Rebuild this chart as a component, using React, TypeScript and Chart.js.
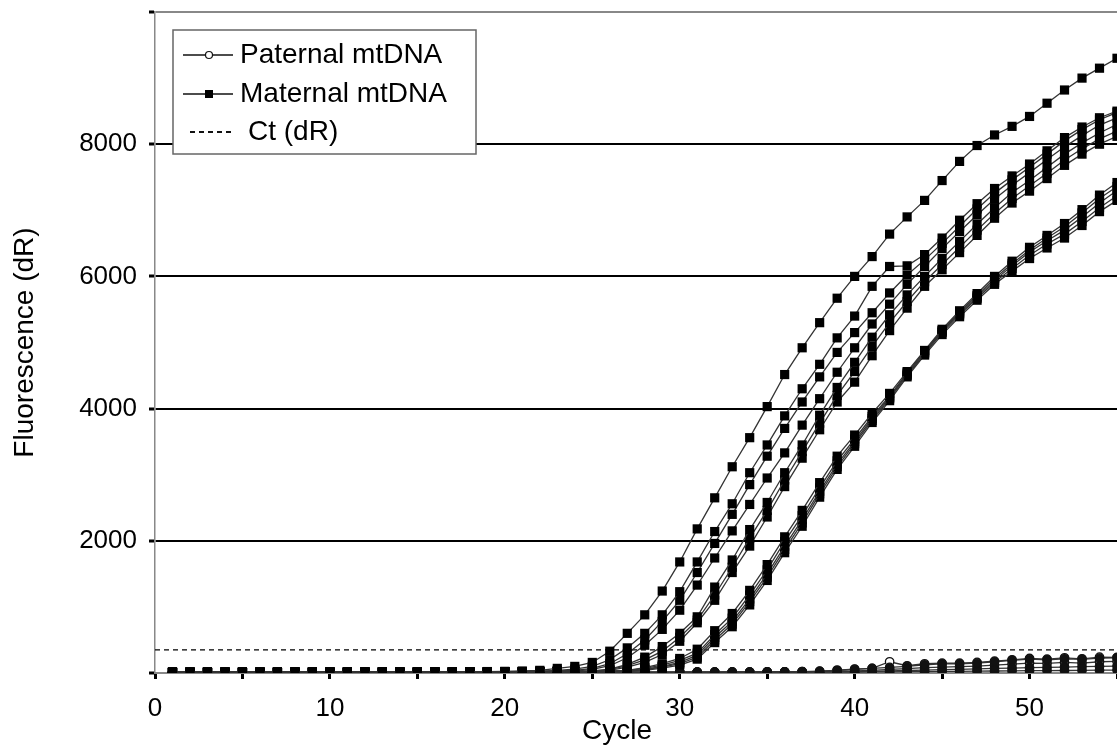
import React, { useEffect, useRef } from 'react';
import { Chart, registerables } from 'chart.js';

Chart.register(...registerables);

const CYCLES = [1, 2, 3, 4, 5, 6, 7, 8, 9, 10, 11, 12, 13, 14, 15, 16, 17, 18, 19, 20, 21, 22, 23, 24, 25, 26, 27, 28, 29, 30, 31, 32, 33, 34, 35, 36, 37, 38, 39, 40, 41, 42, 43, 44, 45, 46, 47, 48, 49, 50, 51, 52, 53, 54, 55];

// Maternal mtDNA curves
const MAT_A = [15, 12, 10, 14, 12, 10, 13, 15, 12, 14, 16, 13, 15, 17, 14, 16, 18, 20, 22, 25, 30, 40, 70, 100, 160, 330, 600, 880, 1240, 1680, 2180, 2650, 3120, 3560, 4030, 4515, 4920, 5300, 5670, 6000, 6300, 6640, 6900, 7150, 7450, 7740, 7980, 8140, 8270, 8420, 8620, 8820, 9000, 9150, 9300];
const MAT_B1 = [12, 10, 14, 11, 9, 12, 14, 10, 13, 15, 12, 14, 16, 12, 15, 17, 14, 18, 16, 20, 22, 28, 40, 60, 100, 200, 380, 600, 880, 1230, 1680, 2140, 2560, 3030, 3450, 3890, 4300, 4670, 5070, 5400, 5850, 6150, 6160, 6330, 6580, 6850, 7100, 7330, 7520, 7700, 7900, 8100, 8260, 8400, 8500];
const MAT_B2 = [10, 13, 11, 9, 12, 10, 11, 13, 12, 10, 14, 12, 13, 11, 15, 13, 16, 14, 17, 18, 20, 25, 30, 40, 70, 140, 290, 500, 780, 1100, 1520, 1960, 2400, 2850, 3280, 3700, 4100, 4480, 4850, 5150, 5450, 5750, 6020, 6250, 6500, 6760, 7020, 7260, 7460, 7650, 7850, 8050, 8220, 8370, 8480];
const MAT_B3 = [8, 11, 9, 12, 10, 8, 11, 9, 12, 10, 11, 13, 10, 12, 14, 11, 13, 15, 14, 16, 18, 22, 26, 30, 55, 110, 230, 420, 660, 950, 1330, 1740, 2150, 2550, 2950, 3330, 3750, 4150, 4550, 4920, 5280, 5580, 5880, 6150, 6420, 6680, 6930, 7170, 7380, 7570, 7770, 7960, 8130, 8290, 8400];
const MAT_B4 = [9, 12, 10, 8, 11, 13, 10, 12, 9, 11, 13, 10, 12, 14, 11, 13, 12, 15, 14, 16, 17, 19, 22, 26, 30, 60, 130, 240, 400, 600, 850, 1300, 1710, 2170, 2580, 3030, 3450, 3900, 4320, 4700, 5080, 5420, 5720, 6000, 6270, 6530, 6790, 7040, 7270, 7450, 7650, 7850, 8020, 8170, 8300];
const MAT_B5 = [11, 9, 12, 10, 13, 11, 9, 12, 10, 13, 11, 12, 14, 10, 13, 12, 15, 13, 16, 15, 18, 20, 21, 23, 25, 50, 110, 200, 330, 540, 800, 1180, 1600, 2040, 2460, 2920, 3350, 3780, 4200, 4560, 4940, 5300, 5620, 5920, 6180, 6440, 6700, 6950, 7180, 7370, 7560, 7760, 7930, 8080, 8200];
const MAT_B6 = [10, 8, 11, 13, 9, 12, 10, 11, 13, 9, 12, 14, 11, 13, 10, 14, 12, 16, 14, 15, 16, 18, 19, 20, 20, 40, 90, 160, 280, 480, 760, 1100, 1520, 1920, 2360, 2820, 3250, 3680, 4100, 4400, 4800, 5180, 5520, 5850, 6100, 6360, 6620, 6880, 7110, 7290, 7480, 7680, 7850, 8000, 8120];
const MAT_C1 = [10, 12, 9, 11, 13, 10, 12, 11, 9, 13, 12, 10, 14, 11, 12, 13, 11, 14, 12, 15, 13, 16, 15, 18, 22, 30, 40, 80, 140, 220, 360, 640, 900, 1250, 1640, 2060, 2460, 2880, 3280, 3600, 3930, 4230, 4560, 4880, 5200, 5480, 5740, 6000, 6230, 6440, 6620, 6800, 7010, 7230, 7420];
const MAT_C2 = [12, 10, 11, 9, 12, 14, 10, 12, 13, 11, 10, 12, 13, 12, 14, 11, 13, 12, 14, 13, 15, 14, 16, 17, 20, 26, 35, 70, 120, 190, 300, 580, 830, 1180, 1560, 1990, 2380, 2800, 3210, 3540, 3880, 4190, 4540, 4870, 5180, 5460, 5710, 5970, 6190, 6400, 6580, 6750, 6960, 7180, 7360];
const MAT_C3 = [9, 11, 12, 10, 9, 11, 13, 10, 11, 12, 9, 13, 11, 12, 10, 13, 12, 11, 13, 14, 12, 15, 14, 16, 18, 24, 30, 55, 100, 160, 270, 540, 780, 1120, 1500, 1920, 2320, 2750, 3160, 3500, 3850, 4170, 4520, 4850, 5170, 5440, 5690, 5940, 6160, 6370, 6540, 6700, 6900, 7110, 7300];
const MAT_C4 = [11, 10, 12, 11, 10, 12, 9, 13, 10, 11, 12, 11, 10, 13, 11, 12, 14, 12, 13, 12, 14, 13, 15, 15, 17, 21, 25, 50, 90, 140, 240, 500, 740, 1080, 1450, 1870, 2270, 2710, 3120, 3470, 3820, 4150, 4500, 4830, 5150, 5420, 5670, 5910, 6120, 6320, 6490, 6640, 6830, 7040, 7220];
const MAT_C5 = [10, 9, 11, 12, 10, 9, 12, 11, 10, 12, 11, 9, 12, 10, 13, 11, 12, 13, 11, 13, 12, 14, 13, 14, 16, 18, 20, 40, 75, 120, 210, 460, 700, 1030, 1400, 1820, 2220, 2660, 3080, 3430, 3790, 4120, 4480, 4810, 5120, 5390, 5640, 5880, 6080, 6270, 6430, 6580, 6770, 6980, 7150];

// Paternal mtDNA curves
const PAT_1 = [5, 8, 6, 4, 7, 9, 6, 5, 8, 7, 6, 9, 7, 5, 8, 6, 7, 9, 8, 6, 7, 8, 10, 9, 8, 10, 12, 11, 9, 12, 14, 12, 15, 13, 16, 18, 20, 25, 45, 60, 70, 170, 110, 140, 150, 150, 160, 180, 200, 220, 210, 230, 215, 240, 235];
const PAT_2 = [6, 4, 7, 5, 8, 6, 4, 7, 5, 8, 6, 7, 5, 8, 6, 9, 7, 8, 6, 9, 8, 7, 9, 10, 8, 11, 10, 12, 11, 13, 12, 14, 13, 15, 17, 19, 22, 28, 38, 55, 70, 85, 100, 125, 140, 140, 150, 170, 190, 210, 200, 215, 205, 225, 230];
const PAT_3 = [4, 6, 5, 7, 4, 6, 8, 5, 7, 6, 5, 8, 6, 7, 5, 8, 6, 7, 9, 7, 8, 6, 9, 8, 10, 9, 11, 10, 12, 11, 13, 12, 14, 13, 15, 16, 18, 22, 26, 30, 40, 55, 65, 80, 90, 95, 105, 120, 135, 150, 145, 160, 150, 170, 175];
const PAT_4 = [7, 5, 6, 4, 8, 6, 5, 7, 6, 4, 7, 5, 8, 6, 7, 5, 6, 8, 7, 6, 8, 7, 6, 9, 8, 7, 9, 8, 10, 9, 11, 10, 12, 11, 13, 14, 15, 17, 18, 20, 25, 30, 38, 45, 50, 55, 62, 70, 75, 80, 85, 90, 95, 100, 105];
const PAT_5 = [3, 5, 4, 6, 3, 5, 4, 6, 5, 3, 6, 4, 5, 7, 4, 6, 5, 7, 6, 5, 7, 6, 8, 7, 6, 8, 7, 9, 8, 7, 9, 8, 10, 9, 11, 10, 12, 13, 14, 15, 17, 18, 20, 22, 24, 25, 28, 30, 32, 35, 36, 38, 40, 42, 45];

const THRESHOLD_X = [0, 55];
const THRESHOLD_Y = 350;

const MATERNAL = [MAT_A, MAT_B1, MAT_B2, MAT_B3, MAT_B4, MAT_B5, MAT_B6, MAT_C1, MAT_C2, MAT_C3, MAT_C4, MAT_C5];
// drawn bottom-most last in list (Chart.js paints later datasets first)
const PATERNAL = [PAT_2, PAT_4, PAT_3, PAT_5, PAT_1];
const PAT_FILL = ['#111111', '#111111', '#555555', '#111111', '#ffffff'];

const X_TICK_STEP = 5;
const X_LABEL_EVERY = 10;
const Y_TICK_STEP = 2000;

const LEGEND_LABELS = ['Paternal mtDNA', 'Maternal mtDNA', 'Ct (dR)'];
const X_TITLE = 'Cycle';
const Y_TITLE = 'Fluorescence (dR)';

const FONT = '"Liberation Sans", Arial, Helvetica, sans-serif';

export default function App() {
  const ref = useRef<HTMLCanvasElement | null>(null);

  useEffect(() => {
    document.body.style.margin = '0';
    document.body.style.overflow = 'hidden';
    const canvas = ref.current;
    if (!canvas) return;

    const toPts = (vals: number[]) => vals.map((v, i) => ({ x: CYCLES[i], y: v }));

    const datasets: any[] = [];
    MATERNAL.forEach((vals, i) => {
      datasets.push({
        label: 'Maternal mtDNA ' + (i + 1),
        data: toPts(vals),
        borderColor: '#333',
        borderWidth: 1.3,
        pointStyle: 'rect',
        pointRadius: 6.5,
        pointBorderWidth: 0,
        pointBackgroundColor: '#000',
        tension: 0,
      });
    });
    PATERNAL.forEach((vals, i) => {
      datasets.push({
        label: 'Paternal mtDNA ' + (i + 1),
        data: toPts(vals),
        borderColor: '#333',
        borderWidth: 1.3,
        pointStyle: 'circle',
        pointRadius: 4.2,
        pointBorderWidth: 1.3,
        pointBorderColor: '#111',
        pointBackgroundColor: PAT_FILL[i],
        tension: 0,
      });
    });
    datasets.push({
      label: 'Ct (dR)',
      data: THRESHOLD_X.map((x) => ({ x, y: THRESHOLD_Y })),
      borderColor: '#000',
      borderWidth: 1.2,
      borderDash: [5, 4],
      pointRadius: 0,
    });

    const overlay = {
      id: 'overlay',
      afterDraw(chart: any) {
        const ctx = chart.ctx;
        const area = chart.chartArea;
        ctx.save();
        // axis titles
        ctx.fillStyle = '#000';
        ctx.font = `28px ${FONT}`;
        ctx.textAlign = 'center';
        ctx.textBaseline = 'middle';
        ctx.fillText(X_TITLE, 617, 731);
        ctx.save();
        ctx.translate(25, (area.top + area.bottom) / 2);
        ctx.rotate(-Math.PI / 2);
        ctx.font = `28px ${FONT}`;
        ctx.fillText(Y_TITLE, 0, 0);
        ctx.restore();

        // legend
        const lx = 173, ly = 30, lw = 303, lh = 124;
        ctx.fillStyle = '#fff';
        ctx.fillRect(lx, ly, lw, lh);
        ctx.strokeStyle = '#666';
        ctx.lineWidth = 1.5;
        ctx.strokeRect(lx, ly, lw, lh);

        const rows = [55, 94, 132];
        const baselines = [63, 102, 140];
        // row 1: line + open circle
        ctx.strokeStyle = '#111';
        ctx.lineWidth = 1.5;
        ctx.beginPath();
        ctx.moveTo(183, rows[0]);
        ctx.lineTo(233, rows[0]);
        ctx.stroke();
        ctx.beginPath();
        ctx.arc(209, rows[0], 3.5, 0, Math.PI * 2);
        ctx.fillStyle = '#fff';
        ctx.fill();
        ctx.lineWidth = 1.2;
        ctx.stroke();
        // row 2: line + square
        ctx.lineWidth = 1.5;
        ctx.beginPath();
        ctx.moveTo(183, rows[1]);
        ctx.lineTo(233, rows[1]);
        ctx.stroke();
        ctx.fillStyle = '#000';
        ctx.fillRect(205, rows[1] - 4, 8, 8);
        // row 3: dotted line
        ctx.setLineDash([5, 4]);
        ctx.lineWidth = 2.2;
        ctx.beginPath();
        ctx.moveTo(190, rows[2]);
        ctx.lineTo(233, rows[2]);
        ctx.stroke();
        ctx.setLineDash([]);

        ctx.fillStyle = '#000';
        ctx.font = `28px ${FONT}`;
        ctx.textAlign = 'left';
        ctx.textBaseline = 'alphabetic';
        ctx.fillText(LEGEND_LABELS[0], 240, baselines[0]);
        ctx.fillText(LEGEND_LABELS[1], 240, baselines[1]);
        ctx.fillText(LEGEND_LABELS[2], 248, baselines[2]);
        ctx.restore();
      },
    };

    const chart = new Chart(canvas, {
      type: 'line',
      data: { datasets },
      options: {
        animation: false,
        responsive: true,
        maintainAspectRatio: false,
        layout: { autoPadding: false, padding: { top: 12, right: 0, bottom: 0, left: 0 } },
        plugins: {
          legend: { display: false },
          tooltip: { enabled: false },
        },
        scales: {
          x: {
            type: 'linear',
            min: 0,
            max: 55,
            ticks: {
              stepSize: X_TICK_STEP,
              autoSkip: false,
              maxRotation: 0,
              callback: (v: any) => (Number(v) % X_LABEL_EVERY === 0 ? String(v) : ''),
              font: { family: FONT, size: 26 },
              color: '#000',
              padding: 14,
            },
            grid: {
              drawOnChartArea: false,
              tickColor: '#000',
              tickLength: 6,
              tickWidth: 3,
            },
            border: { color: '#888', width: 2 },
            afterFit: (s: any) => {
              s.height = 75;
              s.paddingLeft = 0;
              s.paddingRight = 0;
            },
          },
          y: {
            min: 0,
            max: 10000,
            ticks: {
              stepSize: Y_TICK_STEP,
              callback: (v: any) => (Number(v) === 0 || Number(v) === 10000 ? '' : String(v)),
              font: { family: FONT, size: 26 },
              color: '#000',
              padding: 12,
            },
            grid: {
              color: (c: any) =>
                c.tick && c.tick.value === 10000 ? '#888' : c.tick && c.tick.value === 0 ? 'rgba(0,0,0,0)' : '#000',
              lineWidth: 2,
              tickColor: '#000',
              tickLength: 6,
              tickWidth: 3,
            },
            border: { color: '#888', width: 1.5 },
            afterFit: (s: any) => {
              s.width = 155;
              s.paddingTop = 0;
              s.paddingBottom = 0;
            },
          },
        },
      },
      plugins: [overlay],
    });

    return () => chart.destroy();
  }, []);

  return (
    <div style={{ position: 'fixed', left: 0, top: 0, width: 1117, height: 748, background: '#fff' }}>
      <canvas ref={ref} />
    </div>
  );
}
